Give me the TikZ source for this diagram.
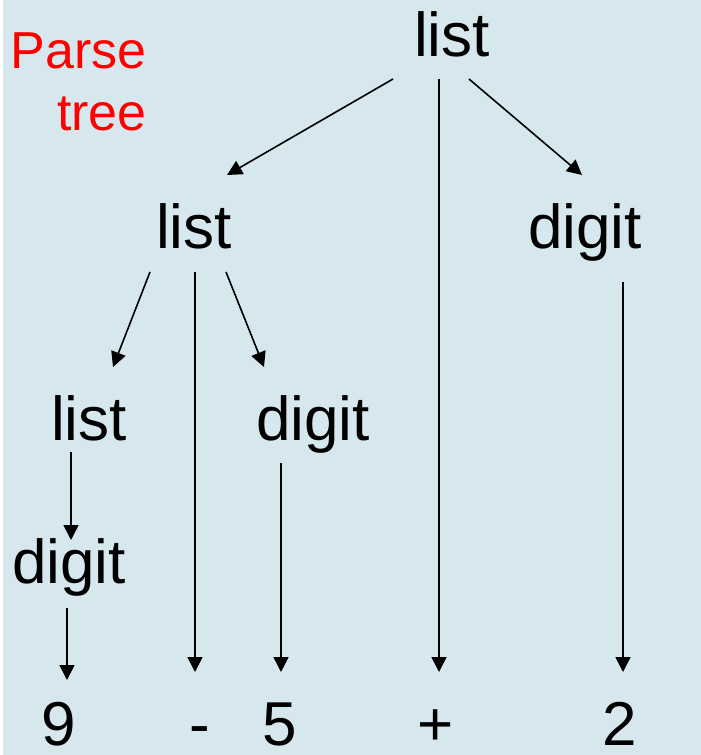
\documentclass[tikz,border=0pt]{standalone}
\usepackage{fontspec}
\setmainfont{Liberation Sans}
\usetikzlibrary{arrows.meta}
\definecolor{panel}{RGB}{214,232,238}
\begin{document}
\begin{tikzpicture}[x=1pt,y=-1pt,
  sym/.style={anchor=base,inner sep=0pt,font=\fontsize{62}{62}\selectfont},
  title/.style={anchor=base east,inner sep=0pt,align=right,text=red,
    font=\fontsize{52}{62}\selectfont},
  edge/.style={line width=1.6pt,-{Triangle[length=15pt,width=15pt]}}]
  \useasboundingbox (0,0) rectangle (701,755);
  \fill[panel] (3,0) rectangle (701,755);

  \node[title] (cap) at (147,130) {Parse\\tree};

  % grammar symbols
  \node[sym] (top) at (452,56) {list};
  \node[sym] (l2) at (194,248) {list};
  \node[sym] (d1) at (585,248) {digit};
  \node[sym] (l3) at (89,440) {list};
  \node[sym] (d2) at (313,440) {digit};
  \node[sym] (d3) at (69,583) {digit};
  % leaves
  \node[sym] (n9) at (59,745) {9};
  \node[sym] (minus) at (200,745) {-};
  \node[sym] (n5) at (280,745) {5};
  \node[sym] (plus) at (436,745) {+};
  \node[sym] (n2) at (620,745) {2};

  % derivation edges
  \draw[edge] ([shift={(-59,23)}]top.base) -- ([shift={(33,-73)}]l2.base);
  \draw[edge] ([shift={(-13,23)}]top.base) -- ([shift={(3,-73)}]plus.base);
  \draw[edge] ([shift={(17,23)}]top.base) -- ([shift={(-3,-73)}]d1.base);
  \draw[edge] ([shift={(-44,24)}]l2.base) -- ([shift={(24,-73)}]l3.base);
  \draw[edge] ([shift={(1,24)}]l2.base) -- ([shift={(-5,-73)}]minus.base);
  \draw[edge] ([shift={(32,24)}]l2.base) -- ([shift={(-49,-73)}]d2.base);
  \draw[edge] ([shift={(38,34)}]d1.base) -- ([shift={(3,-73)}]n2.base);
  \draw[edge] ([shift={(-18,12)}]l3.base) -- ([shift={(2,-43)}]d3.base);
  \draw[edge] ([shift={(-32,23)}]d2.base) -- ([shift={(1,-73)}]n5.base);
  \draw[edge] ([shift={(-2,25)}]d3.base) -- ([shift={(8,-65)}]n9.base);
\end{tikzpicture}
\end{document}
